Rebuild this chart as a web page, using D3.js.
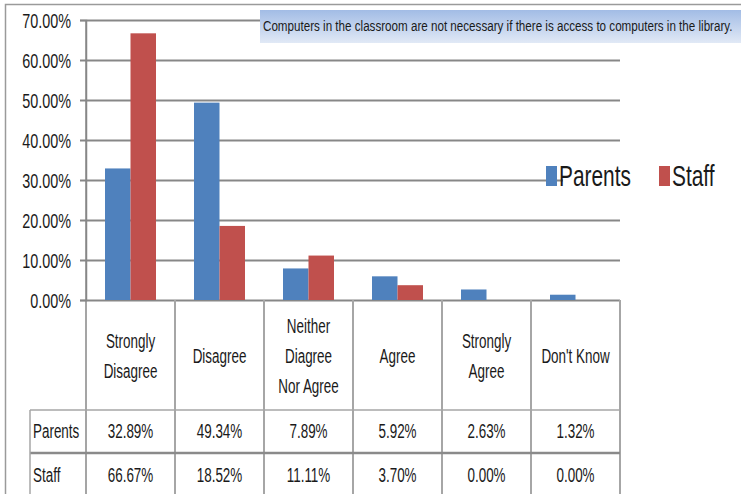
<!DOCTYPE html>
<html>
<head>
<meta charset="utf-8">
<script src="https://cdn.jsdelivr.net/npm/d3@7"></script>
<style>
  body { margin: 0; background: #fff; }
  text { font-family: "Liberation Sans", Arial, sans-serif; fill: #1a1a1a; }
</style>
</head>
<body>
<script>
// chart data
const categories = ["Strongly Disagree", "Disagree", "Neither Diagree Nor Agree", "Agree", "Strongly Agree", "Don't Know"];
const categoryLines = [["Strongly", "Disagree"], ["Disagree"], ["Neither", "Diagree", "Nor Agree"], ["Agree"], ["Strongly", "Agree"], ["Don't Know"]];
const series = ["Parents", "Staff"];
const parents = [32.89, 49.34, 7.89, 5.92, 2.63, 1.32];
const staff = [66.67, 18.52, 11.11, 3.70, 0.00, 0.00];
const yTicks = [0, 10, 20, 30, 40, 50, 60, 70];
const title = "Computers in the classroom are not necessary if there is access to computers in the library.";

const colors = { Parents: "#4f81bd", Staff: "#c0504d" };
const values = { Parents: parents, Staff: staff };

const W = 741, H = 494;
const plot = { left: 86, right: 620, top: 20, bottom: 300 };
const gridColor = "#878787";
const tableColor = "#a6a6a6";

const svg = d3.select("body").append("svg")
  .attr("width", W)
  .attr("height", H);

svg.append("rect").attr("width", W).attr("height", H).attr("fill", "#fff");

// outer frame (only left and top edges are in view)
svg.append("path")
  .attr("d", `M5.5,${H} V4.5 H${W}`)
  .attr("fill", "none")
  .attr("stroke", "#9a9a9a")
  .attr("stroke-width", 1.5);

const x0 = d3.scaleBand().domain(categories).range([plot.left, plot.right]).padding(0);
const x1 = d3.scaleBand().domain(series).range([0, x0.bandwidth()]).paddingInner(0).paddingOuter(0.745);
const y = d3.scaleLinear().domain([0, 70]).range([plot.bottom, plot.top]);

// gridlines
svg.append("g")
  .selectAll("line")
  .data(yTicks)
  .join("line")
    .attr("x1", plot.left)
    .attr("x2", plot.right)
    .attr("y1", d => Math.round(y(d)) + 0.5)
    .attr("y2", d => Math.round(y(d)) + 0.5)
    .attr("stroke", gridColor)
    .attr("stroke-width", 2);

// y axis
const sxTick = 0.72;
const yAxis = svg.append("g")
  .attr("transform", `translate(${plot.left},0)`)
  .call(d3.axisLeft(y).tickValues(yTicks).tickSize(6).tickFormat(d => d.toFixed(2) + "%"));
yAxis.select(".domain").attr("stroke", gridColor).attr("stroke-width", 1.5);
yAxis.selectAll(".tick line").attr("stroke", gridColor).attr("stroke-width", 2);
yAxis.selectAll(".tick text")
  .attr("font-size", 20)
  .attr("fill", "#1a1a1a")
  .attr("font-family", "Liberation Sans, Arial, sans-serif")
  .attr("x", -15 / sxTick)
  .attr("dy", "0.36em")
  .attr("transform", `scale(${sxTick},1)`);

// bars
const groups = svg.append("g")
  .selectAll("g")
  .data(categories)
  .join("g")
    .attr("transform", d => `translate(${x0(d)},0)`);

groups.selectAll("rect")
  .data((d, i) => series.map(s => ({ s, v: values[s][i] })))
  .join("rect")
    .attr("x", d => x1(d.s))
    .attr("y", d => y(d.v))
    .attr("width", x1.bandwidth())
    .attr("height", d => y(0) - y(d.v))
    .attr("fill", d => colors[d.s]);

// axis line continues down through the table
svg.append("line")
  .attr("x1", plot.left).attr("x2", plot.left)
  .attr("y1", plot.top).attr("y2", H)
  .attr("stroke", gridColor).attr("stroke-width", 1.5);

// data table
const table = { left: 30, headerBottom: 410, row1Bottom: 453 };
const sxTab = 0.64;
const tableG = svg.append("g");

tableG.selectAll("line.sep")
  .data(categories)
  .join("line")
    .attr("class", "sep")
    .attr("x1", d => x0(d) + x0.bandwidth())
    .attr("x2", d => x0(d) + x0.bandwidth())
    .attr("y1", plot.bottom)
    .attr("y2", H)
    .attr("stroke", tableColor)
    .attr("stroke-width", 2);

tableG.append("line")
  .attr("x1", table.left).attr("x2", plot.right)
  .attr("y1", table.headerBottom).attr("y2", table.headerBottom)
  .attr("stroke", tableColor).attr("stroke-width", 1.5);
tableG.append("line")
  .attr("x1", table.left).attr("x2", plot.right)
  .attr("y1", table.row1Bottom).attr("y2", table.row1Bottom)
  .attr("stroke", "#8a8a8a").attr("stroke-width", 2.5);
tableG.append("line")
  .attr("x1", table.left).attr("x2", table.left)
  .attr("y1", table.headerBottom).attr("y2", H)
  .attr("stroke", tableColor).attr("stroke-width", 1.5);

// header labels
const headerMid = (plot.bottom + table.headerBottom) / 2;
const lineH = 30;
categoryLines.forEach((lines, i) => {
  const cx = x0(categories[i]) + x0.bandwidth() / 2;
  lines.forEach((ln, j) => {
    const by = headerMid + 8 + (j - (lines.length - 1) / 2) * lineH;
    tableG.append("text")
      .attr("transform", `translate(${cx},${by}) scale(${sxTab},1)`)
      .attr("text-anchor", "middle")
      .attr("font-size", 21)
      .text(ln);
  });
});

// value rows
series.forEach((s, r) => {
  const by = table.headerBottom + 28 + r * 44;
  tableG.append("text")
    .attr("transform", `translate(${table.left + 3},${by}) scale(${sxTab},1)`)
    .attr("font-size", 21)
    .text(s);
  values[s].forEach((v, i) => {
    tableG.append("text")
      .attr("transform", `translate(${x0(categories[i]) + x0.bandwidth() / 2},${by}) scale(${sxTab},1)`)
      .attr("text-anchor", "middle")
      .attr("font-size", 21)
      .text(v.toFixed(2) + "%");
  });
});

// legend
const sxLeg = 0.72;
const legendX = [546, 659];
svg.append("rect")
  .attr("x", 563).attr("y", 170).attr("width", 60).attr("height", 20)
  .attr("fill", "#fff");
const legend = svg.append("g")
  .selectAll("g")
  .data(series)
  .join("g")
    .attr("transform", (d, i) => `translate(${legendX[i]},166)`);
legend.append("rect")
  .attr("width", 11).attr("height", 20)
  .attr("fill", d => colors[d]);
legend.append("text")
  .attr("transform", `translate(13,20) scale(${sxLeg},1)`)
  .attr("font-size", 29)
  .text(d => d);

// title box
const grad = svg.append("defs").append("linearGradient")
  .attr("id", "titleGrad").attr("x1", 0).attr("x2", 0).attr("y1", 0).attr("y2", 1);
grad.append("stop").attr("offset", "0%").attr("stop-color", "#a2bce5");
grad.append("stop").attr("offset", "100%").attr("stop-color", "#e1e9f6");
svg.append("rect")
  .attr("x", 260).attr("y", 10).attr("width", W - 260).attr("height", 33)
  .attr("fill", "url(#titleGrad)");
const titleText = svg.append("text")
  .attr("font-size", 14)
  .text(title);
const natural = titleText.node().getComputedTextLength();
titleText.attr("transform", `translate(263,31) scale(${470 / natural},1)`);
</script>
</body>
</html>
